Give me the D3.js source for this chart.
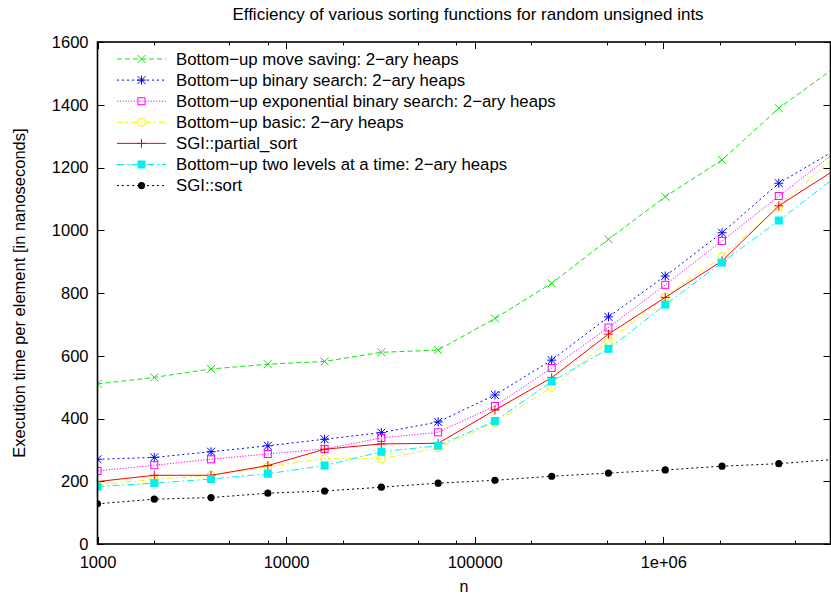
<!DOCTYPE html>
<html>
<head>
<meta charset="utf-8">
<script src="https://cdn.jsdelivr.net/npm/d3@7"></script>
<style>
  html, body { margin: 0; padding: 0; background: #fff; }
  svg { display: block; font-family: "Liberation Sans", Arial, sans-serif; }
</style>
</head>
<body>
<svg id="chart" width="831" height="599"></svg>
<script>
// Problem sizes n (powers of two times 1000)
const nValues = [1000, 2000, 4000, 8000, 16000, 32000, 64000, 128000, 256000,
                 512000, 1024000, 2048000, 4096000, 8192000];

// Execution time per element, in nanoseconds
const moveSaving      = [510, 531, 558, 573, 582, 611, 618, 719, 831, 971, 1107, 1224, 1389, 1520];
const binarySearch    = [270, 276, 294, 313, 334, 355, 389, 475, 586, 724, 854, 992, 1150, 1256];
const expBinarySearch = [233, 251, 270, 287, 303, 338, 356, 440, 561, 690, 826, 966, 1109, 1249];
const basicHeap       = [188, 206, 219, 246, 272, 272, 306, 387, 499, 645, 788, 916, 1075, 1236];
const partialSort     = [199, 219, 219, 250, 302, 319, 321, 427, 530, 669, 786, 902, 1078, 1194];
const twoLevels       = [183, 194, 207, 224, 250, 294, 313, 392, 518, 622, 763, 897, 1031, 1170];
const sgiSort         = [128, 143, 148, 162, 169, 181, 194, 203, 216, 226, 236, 248, 256, 270];

const seriesNames = [
  "Bottom\u2212up move saving: 2\u2212ary heaps",
  "Bottom\u2212up binary search: 2\u2212ary heaps",
  "Bottom\u2212up exponential binary search: 2\u2212ary heaps",
  "Bottom\u2212up basic: 2\u2212ary heaps",
  "SGI::partial_sort",
  "Bottom\u2212up two levels at a time: 2\u2212ary heaps",
  "SGI::sort"
];
const seriesValues = [moveSaving, binarySearch, expBinarySearch, basicHeap, partialSort, twoLevels, sgiSort];

// Axis ticks
const xMajorTicks = [1000, 10000, 100000, 1000000];
const xMajorLabels = ["1000", "10000", "100000", "1e+06"];
const xMinorTicks = [2000, 5000, 8000, 20000, 50000, 80000, 200000, 500000, 800000, 2000000, 5000000];
const yTicks = [0, 200, 400, 600, 800, 1000, 1200, 1400, 1600];
const xDomain = [1000, 7.7e6];
const yDomain = [0, 1600];

const titleText = "Efficiency of various sorting functions for random unsigned ints";
const xLabelText = "n";
const yLabelText = "Execution time per element [in nanoseconds]";

// Appearance of each series: colour, dash pattern and point symbol
const styles = [
  { color: "#00ee00", dash: "5,3",     symbol: "cross" },
  { color: "#0000ff", dash: "2,3",     symbol: "star" },
  { color: "#ff00ff", dash: "1.2,1.6", symbol: "square" },
  { color: "#f4f400", dash: "6,3,2,3", symbol: "circle" },
  { color: "#ff0000", dash: null,      symbol: "plus" },
  { color: "#00f0f0", dash: "7,3,2,3", symbol: "fsquare" },
  { color: "#000000", dash: "2,3",     symbol: "dot" }
];

const svg = d3.select("#chart");
const plot = { left: 97.5, right: 830.5, top: 42, bottom: 544 };
const fontFamily = "Liberation Sans, Arial, sans-serif";

const x = d3.scaleLog().domain(xDomain).range([plot.left, plot.right]);
const y = d3.scaleLinear().domain(yDomain).range([plot.bottom, plot.top]);

svg.append("defs").append("clipPath").attr("id", "plotclip")
  .append("rect")
  .attr("x", plot.left).attr("y", plot.top)
  .attr("width", plot.right - plot.left).attr("height", plot.bottom - plot.top);

// Title and axis labels
svg.append("text").attr("x", 468).attr("y", 20).attr("text-anchor", "middle")
  .attr("font-size", 17).attr("fill", "#000").text(titleText);
svg.append("text").attr("x", (plot.left + plot.right) / 2).attr("y", 592)
  .attr("text-anchor", "middle").attr("font-size", 16).text(xLabelText);
svg.append("text").attr("transform", `translate(25,${(plot.top + plot.bottom) / 2}) rotate(-90)`)
  .attr("text-anchor", "middle").attr("font-size", 16.5).text(yLabelText);

// Axes: labels via d3 axis generators, ticks drawn inward on all four sides
const bottomAxis = d3.axisBottom(x).tickValues(xMajorTicks)
  .tickFormat((d, i) => xMajorLabels[i]).tickSize(0).tickPadding(12);
const gx = svg.append("g").attr("transform", `translate(0,${plot.bottom})`).call(bottomAxis);
gx.select(".domain").remove();
gx.selectAll("text").attr("font-size", 16.5).attr("font-family", fontFamily).attr("fill", "#000");

const leftAxis = d3.axisLeft(y).tickValues(yTicks).tickFormat(d3.format("d")).tickSize(0).tickPadding(9);
const gy = svg.append("g").attr("transform", `translate(${plot.left},0)`).call(leftAxis);
gy.select(".domain").remove();
gy.selectAll("text").attr("font-size", 16.5).attr("font-family", fontFamily).attr("fill", "#000");

const tickG = svg.append("g").attr("stroke", "#000").attr("stroke-width", 1);
const majorLen = 7, minorLen = 3.5;
xMajorTicks.forEach(v => {
  const px = Math.round(x(v)) + 0.5;
  tickG.append("line").attr("x1", px).attr("x2", px).attr("y1", plot.bottom).attr("y2", plot.bottom - majorLen);
  tickG.append("line").attr("x1", px).attr("x2", px).attr("y1", plot.top).attr("y2", plot.top + majorLen);
});
xMinorTicks.forEach(v => {
  const px = Math.round(x(v)) + 0.5;
  tickG.append("line").attr("x1", px).attr("x2", px).attr("y1", plot.bottom).attr("y2", plot.bottom - minorLen);
  tickG.append("line").attr("x1", px).attr("x2", px).attr("y1", plot.top).attr("y2", plot.top + minorLen);
});
yTicks.forEach(v => {
  const py = Math.round(y(v)) + 0.5;
  tickG.append("line").attr("x1", plot.left).attr("x2", plot.left + majorLen).attr("y1", py).attr("y2", py);
  tickG.append("line").attr("x1", plot.right).attr("x2", plot.right - majorLen).attr("y1", py).attr("y2", py);
});

// Point symbols
function drawSymbol(g, kind, cx, cy, color) {
  const s = 4;
  if (kind === "cross") {
    g.append("path").attr("d", `M${cx - s},${cy - s}L${cx + s},${cy + s}M${cx - s},${cy + s}L${cx + s},${cy - s}`)
      .attr("stroke", color).attr("stroke-width", 1).attr("fill", "none");
  } else if (kind === "plus") {
    g.append("path").attr("d", `M${cx - 4.5},${cy}L${cx + 4.5},${cy}M${cx},${cy - 4.5}L${cx},${cy + 4.5}`)
      .attr("stroke", color).attr("stroke-width", 1).attr("fill", "none");
  } else if (kind === "star") {
    g.append("path").attr("d",
      `M${cx - s},${cy - s}L${cx + s},${cy + s}M${cx - s},${cy + s}L${cx + s},${cy - s}` +
      `M${cx - 4.5},${cy}L${cx + 4.5},${cy}M${cx},${cy - 4.5}L${cx},${cy + 4.5}`)
      .attr("stroke", color).attr("stroke-width", 1).attr("fill", "none");
  } else if (kind === "square") {
    g.append("rect").attr("x", cx - 3.5).attr("y", cy - 3.5).attr("width", 7).attr("height", 7)
      .attr("stroke", color).attr("stroke-width", 1).attr("fill", "none");
  } else if (kind === "fsquare") {
    g.append("rect").attr("x", cx - 4).attr("y", cy - 4).attr("width", 8).attr("height", 8)
      .attr("fill", color);
  } else if (kind === "circle") {
    g.append("circle").attr("cx", cx).attr("cy", cy).attr("r", 4)
      .attr("stroke", color).attr("stroke-width", 1).attr("fill", "none");
  } else if (kind === "dot") {
    g.append("circle").attr("cx", cx).attr("cy", cy).attr("r", 3.6).attr("fill", color);
  }
}

// Series lines and points
const line = d3.line().x(d => x(d[0])).y(d => y(d[1]));
const dataG = svg.append("g").attr("clip-path", "url(#plotclip)");
seriesValues.forEach((vals, i) => {
  const st = styles[i];
  const pts = nValues.map((n, j) => [n, vals[j]]);
  dataG.append("path").datum(pts).attr("d", line)
    .attr("fill", "none").attr("stroke", st.color).attr("stroke-width", 1)
    .attr("stroke-dasharray", st.dash);
  const pg = dataG.append("g");
  pts.forEach(p => drawSymbol(pg, st.symbol, x(p[0]), y(p[1]), st.color));
});

// Legend
const legend = svg.append("g");
const legendTop = 59, legendStep = 21.1;
seriesNames.forEach((name, i) => {
  const st = styles[i];
  const cy = legendTop + i * legendStep;
  legend.append("line").attr("x1", 117).attr("x2", 166).attr("y1", cy).attr("y2", cy)
    .attr("stroke", st.color).attr("stroke-width", 1).attr("stroke-dasharray", st.dash);
  drawSymbol(legend, st.symbol, 141.5, cy, st.color);
  legend.append("text").attr("x", 176).attr("y", cy + 5.8).attr("font-size", 16.8).text(name);
});

// Border
svg.append("rect").attr("x", plot.left).attr("y", plot.top)
  .attr("width", plot.right - plot.left).attr("height", plot.bottom - plot.top)
  .attr("fill", "none").attr("stroke", "#000").attr("stroke-width", 1.6);
</script>
</body>
</html>
